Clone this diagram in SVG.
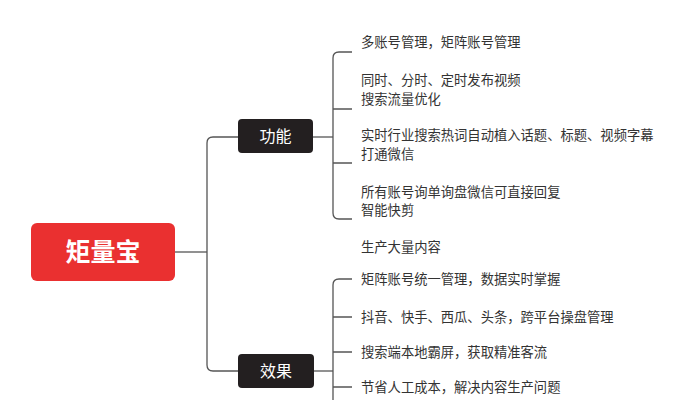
<svg xmlns="http://www.w3.org/2000/svg" width="684" height="400" viewBox="0 0 684 400">
<style>
.ln{fill:none;stroke:#555;stroke-width:1.3}
.t{font-family:"Liberation Sans","Noto Sans CJK SC",sans-serif;font-size:13.3px;fill:#333}
.bt{font-family:"Liberation Sans","Noto Sans CJK SC",sans-serif;font-size:16px;fill:#fff;text-anchor:middle}
</style>
<rect width="684" height="400" fill="#fff"/>
<g id="connectors">
<path class="ln" d="M175,252 H207"/>
<path class="ln" d="M238,137 H213 Q207,137 207,143 V365 Q207,371 213,371 H238"/>
<path class="ln" d="M313,137 H333"/>
<path class="ln" d="M352,52 H339 Q333,52 333,58 V213 Q333,219 339,219 H352"/>
<path class="ln" d="M333,109 H352 M333,163 H352"/>
<path class="ln" d="M314,371 H333"/>
<path class="ln" d="M352,279 H339 Q333,279 333,285 V400"/>
<path class="ln" d="M333,317 H352 M333,352 H352 M333,387 H352"/>
</g>
<g id="root">
<rect x="31" y="223" width="144" height="58" rx="6" fill="#ea3030"/>
<text x="103" y="261" font-family="'Liberation Sans','Noto Sans CJK SC',sans-serif" font-size="25" font-weight="bold" fill="#fff" text-anchor="middle">矩量宝</text>
</g>
<g id="gongneng">
<rect x="238" y="119" width="75" height="34" rx="4" fill="#231f20"/>
<text class="bt" x="275.5" y="142">功能</text>
</g>
<g id="xiaoguo">
<rect x="238" y="354" width="76" height="34" rx="4" fill="#231f20"/>
<text class="bt" x="276" y="377">效果</text>
</g>
<g id="f1"><text class="t" x="361" y="47">多账号管理，矩阵账号管理</text></g>
<g id="f2"><text class="t" x="361" y="85">同时、分时、定时发布视频</text><text class="t" x="361" y="104">搜索流量优化</text></g>
<g id="f3"><text class="t" x="361" y="140">实时行业搜索热词自动植入话题、标题、视频字幕</text><text class="t" x="361" y="159">打通微信</text></g>
<g id="f4"><text class="t" x="361" y="197">所有账号询单询盘微信可直接回复</text><text class="t" x="361" y="215">智能快剪</text></g>
<g id="f5"><text class="t" x="361" y="252">生产大量内容</text></g>
<g id="e1"><text class="t" x="361" y="284">矩阵账号统一管理，数据实时掌握</text></g>
<g id="e2"><text class="t" x="361" y="322">抖音、快手、西瓜、头条，跨平台操盘管理</text></g>
<g id="e3"><text class="t" x="361" y="357">搜索端本地霸屏，获取精准客流</text></g>
<g id="e4"><text class="t" x="361" y="392">节省人工成本，解决内容生产问题</text></g>
</svg>
